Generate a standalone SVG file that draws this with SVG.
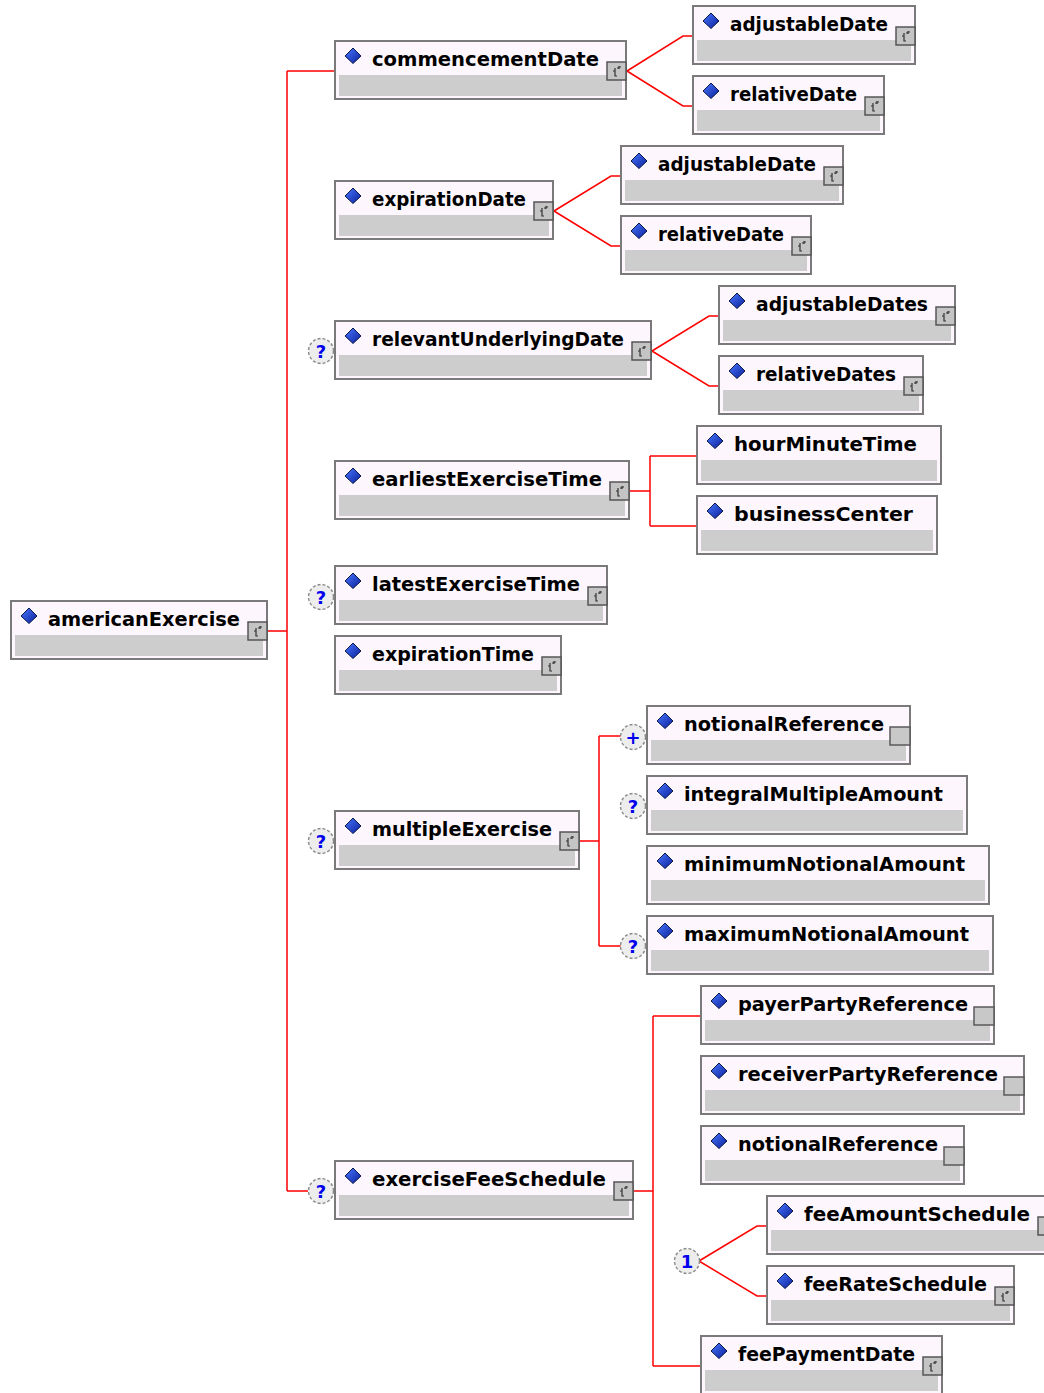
<svg xmlns="http://www.w3.org/2000/svg" width="1044" height="1393" viewBox="0 0 1044 1393">
<defs>
<linearGradient id="dg" x1="0" y1="0" x2="1" y2="1"><stop offset="0" stop-color="#4a78ff"/><stop offset="1" stop-color="#0a1f9a"/></linearGradient>
<path id="dia" d="M0,-8 L8,0 L0,7.5 L-8,0 Z" fill="url(#dg)" stroke="#0b1a4a" stroke-width="1"/>
<g id="cplx"><rect width="19" height="18" fill="#c4c4c4" stroke="#555" stroke-width="1.5"/><path d="M6 9h2M8 6v8h2M10 6h2M12 4v3M12 5h2" fill="none" stroke="#333" stroke-width="1.2"/></g>
<rect id="sref" width="20" height="18" fill="#c8c8c8" stroke="#5a5a5a" stroke-width="1.5"/>
</defs>
<style>
.box{fill:#fdf6fd;stroke:#7a7a7a;stroke-width:2}
.bar{fill:#cdcdcd}
.lbl{font-family:"DejaVu Sans",Verdana,sans-serif;font-weight:bold;font-size:19px;fill:#000}
.ln{fill:none;stroke:#ff0000;stroke-width:1.5}
.cmp circle{fill:#ededed;stroke:#8a8a8a;stroke-width:1.4;stroke-dasharray:3 2}
.cmp text{font-family:"DejaVu Sans",sans-serif;font-weight:bold;font-size:18px;fill:#0000ee;text-anchor:middle}
</style>
<rect width="1044" height="1393" fill="#fff"/>
<g id="connectors" class="ln">
<path d="M267 631H287M287 71V1191M287 71H335M287 1191H308"/>
<path d="M627 71L683 36H693M627 71L683 106H693"/>
<path d="M554 211L611 176H621M554 211L611 246H621"/>
<path d="M652 351L709 316H719M652 351L709 386H719"/>
<path d="M629 491H650M650 456V526M650 456H697M650 526H697"/>
<path d="M579 841H599M599 736V946M599 736H621M599 946H621"/>
<path d="M633 1191H653M653 1016V1366M653 1016H701M653 1366H701"/>
<path d="M699 1261L757 1226H767M699 1261L757 1296H767"/>
</g>
<g id="n-americanExercise" transform="translate(11,601)"><rect class="box" width="256" height="58"/><rect class="bar" x="4" y="34" width="248" height="21"/><use href="#dia" x="18" y="15"/><text class="lbl" x="37" y="25" textLength="192" lengthAdjust="spacingAndGlyphs">americanExercise</text><use href="#cplx" x="237" y="21"/></g>
<g id="n-commencementDate" transform="translate(335,41)"><rect class="box" width="291" height="58"/><rect class="bar" x="4" y="34" width="283" height="21"/><use href="#dia" x="18" y="15"/><text class="lbl" x="37" y="25" textLength="227" lengthAdjust="spacingAndGlyphs">commencementDate</text><use href="#cplx" x="272" y="21"/></g>
<g id="n-adjustableDate1" transform="translate(693,6)"><rect class="box" width="222" height="58"/><rect class="bar" x="4" y="34" width="214" height="21"/><use href="#dia" x="18" y="15"/><text class="lbl" x="37" y="25" textLength="158" lengthAdjust="spacingAndGlyphs">adjustableDate</text><use href="#cplx" x="203" y="21"/></g>
<g id="n-relativeDate1" transform="translate(693,76)"><rect class="box" width="191" height="58"/><rect class="bar" x="4" y="34" width="183" height="21"/><use href="#dia" x="18" y="15"/><text class="lbl" x="37" y="25" textLength="127" lengthAdjust="spacingAndGlyphs">relativeDate</text><use href="#cplx" x="172" y="21"/></g>
<g id="n-expirationDate" transform="translate(335,181)"><rect class="box" width="218" height="58"/><rect class="bar" x="4" y="34" width="210" height="21"/><use href="#dia" x="18" y="15"/><text class="lbl" x="37" y="25" textLength="154" lengthAdjust="spacingAndGlyphs">expirationDate</text><use href="#cplx" x="199" y="21"/></g>
<g id="n-adjustableDate2" transform="translate(621,146)"><rect class="box" width="222" height="58"/><rect class="bar" x="4" y="34" width="214" height="21"/><use href="#dia" x="18" y="15"/><text class="lbl" x="37" y="25" textLength="158" lengthAdjust="spacingAndGlyphs">adjustableDate</text><use href="#cplx" x="203" y="21"/></g>
<g id="n-relativeDate2" transform="translate(621,216)"><rect class="box" width="190" height="58"/><rect class="bar" x="4" y="34" width="182" height="21"/><use href="#dia" x="18" y="15"/><text class="lbl" x="37" y="25" textLength="126" lengthAdjust="spacingAndGlyphs">relativeDate</text><use href="#cplx" x="171" y="21"/></g>
<g id="n-relevantUnderlyingDate" transform="translate(335,321)"><rect class="box" width="316" height="58"/><rect class="bar" x="4" y="34" width="308" height="21"/><use href="#dia" x="18" y="15"/><text class="lbl" x="37" y="25" textLength="252" lengthAdjust="spacingAndGlyphs">relevantUnderlyingDate</text><use href="#cplx" x="297" y="21"/></g>
<g id="n-adjustableDates" transform="translate(719,286)"><rect class="box" width="236" height="58"/><rect class="bar" x="4" y="34" width="228" height="21"/><use href="#dia" x="18" y="15"/><text class="lbl" x="37" y="25" textLength="172" lengthAdjust="spacingAndGlyphs">adjustableDates</text><use href="#cplx" x="217" y="21"/></g>
<g id="n-relativeDates" transform="translate(719,356)"><rect class="box" width="204" height="58"/><rect class="bar" x="4" y="34" width="196" height="21"/><use href="#dia" x="18" y="15"/><text class="lbl" x="37" y="25" textLength="140" lengthAdjust="spacingAndGlyphs">relativeDates</text><use href="#cplx" x="185" y="21"/></g>
<g id="n-earliestExerciseTime" transform="translate(335,461)"><rect class="box" width="294" height="58"/><rect class="bar" x="4" y="34" width="286" height="21"/><use href="#dia" x="18" y="15"/><text class="lbl" x="37" y="25" textLength="230" lengthAdjust="spacingAndGlyphs">earliestExerciseTime</text><use href="#cplx" x="275" y="21"/></g>
<g id="n-hourMinuteTime" transform="translate(697,426)"><rect class="box" width="244" height="58"/><rect class="bar" x="4" y="34" width="236" height="21"/><use href="#dia" x="18" y="15"/><text class="lbl" x="37" y="25" textLength="183" lengthAdjust="spacingAndGlyphs">hourMinuteTime</text></g>
<g id="n-businessCenter" transform="translate(697,496)"><rect class="box" width="240" height="58"/><rect class="bar" x="4" y="34" width="232" height="21"/><use href="#dia" x="18" y="15"/><text class="lbl" x="37" y="25" textLength="179" lengthAdjust="spacingAndGlyphs">businessCenter</text></g>
<g id="n-latestExerciseTime" transform="translate(335,566)"><rect class="box" width="272" height="58"/><rect class="bar" x="4" y="34" width="264" height="21"/><use href="#dia" x="18" y="15"/><text class="lbl" x="37" y="25" textLength="208" lengthAdjust="spacingAndGlyphs">latestExerciseTime</text><use href="#cplx" x="253" y="21"/></g>
<g id="n-expirationTime" transform="translate(335,636)"><rect class="box" width="226" height="58"/><rect class="bar" x="4" y="34" width="218" height="21"/><use href="#dia" x="18" y="15"/><text class="lbl" x="37" y="25" textLength="162" lengthAdjust="spacingAndGlyphs">expirationTime</text><use href="#cplx" x="207" y="21"/></g>
<g id="n-multipleExercise" transform="translate(335,811)"><rect class="box" width="244" height="58"/><rect class="bar" x="4" y="34" width="236" height="21"/><use href="#dia" x="18" y="15"/><text class="lbl" x="37" y="25" textLength="180" lengthAdjust="spacingAndGlyphs">multipleExercise</text><use href="#cplx" x="225" y="21"/></g>
<g id="n-notionalReference1" transform="translate(647,706)"><rect class="box" width="263" height="58"/><rect class="bar" x="4" y="34" width="255" height="21"/><use href="#dia" x="18" y="15"/><text class="lbl" x="37" y="25" textLength="200" lengthAdjust="spacingAndGlyphs">notionalReference</text><use href="#sref" x="243" y="21"/></g>
<g id="n-integralMultipleAmount" transform="translate(647,776)"><rect class="box" width="320" height="58"/><rect class="bar" x="4" y="34" width="312" height="21"/><use href="#dia" x="18" y="15"/><text class="lbl" x="37" y="25" textLength="259" lengthAdjust="spacingAndGlyphs">integralMultipleAmount</text></g>
<g id="n-minimumNotionalAmount" transform="translate(647,846)"><rect class="box" width="342" height="58"/><rect class="bar" x="4" y="34" width="334" height="21"/><use href="#dia" x="18" y="15"/><text class="lbl" x="37" y="25" textLength="281" lengthAdjust="spacingAndGlyphs">minimumNotionalAmount</text></g>
<g id="n-maximumNotionalAmount" transform="translate(647,916)"><rect class="box" width="346" height="58"/><rect class="bar" x="4" y="34" width="338" height="21"/><use href="#dia" x="18" y="15"/><text class="lbl" x="37" y="25" textLength="285" lengthAdjust="spacingAndGlyphs">maximumNotionalAmount</text></g>
<g id="n-exerciseFeeSchedule" transform="translate(335,1161)"><rect class="box" width="298" height="58"/><rect class="bar" x="4" y="34" width="290" height="21"/><use href="#dia" x="18" y="15"/><text class="lbl" x="37" y="25" textLength="234" lengthAdjust="spacingAndGlyphs">exerciseFeeSchedule</text><use href="#cplx" x="279" y="21"/></g>
<g id="n-payerPartyReference" transform="translate(701,986)"><rect class="box" width="293" height="58"/><rect class="bar" x="4" y="34" width="285" height="21"/><use href="#dia" x="18" y="15"/><text class="lbl" x="37" y="25" textLength="230" lengthAdjust="spacingAndGlyphs">payerPartyReference</text><use href="#sref" x="273" y="21"/></g>
<g id="n-receiverPartyReference" transform="translate(701,1056)"><rect class="box" width="323" height="58"/><rect class="bar" x="4" y="34" width="315" height="21"/><use href="#dia" x="18" y="15"/><text class="lbl" x="37" y="25" textLength="260" lengthAdjust="spacingAndGlyphs">receiverPartyReference</text><use href="#sref" x="303" y="21"/></g>
<g id="n-notionalReference2" transform="translate(701,1126)"><rect class="box" width="263" height="58"/><rect class="bar" x="4" y="34" width="255" height="21"/><use href="#dia" x="18" y="15"/><text class="lbl" x="37" y="25" textLength="200" lengthAdjust="spacingAndGlyphs">notionalReference</text><use href="#sref" x="243" y="21"/></g>
<g id="n-feeAmountSchedule" transform="translate(767,1196)"><rect class="box" width="290" height="58"/><rect class="bar" x="4" y="34" width="282" height="21"/><use href="#dia" x="18" y="15"/><text class="lbl" x="37" y="25" textLength="226" lengthAdjust="spacingAndGlyphs">feeAmountSchedule</text><use href="#cplx" x="271" y="21"/></g>
<g id="n-feeRateSchedule" transform="translate(767,1266)"><rect class="box" width="247" height="58"/><rect class="bar" x="4" y="34" width="239" height="21"/><use href="#dia" x="18" y="15"/><text class="lbl" x="37" y="25" textLength="183" lengthAdjust="spacingAndGlyphs">feeRateSchedule</text><use href="#cplx" x="228" y="21"/></g>
<g id="n-feePaymentDate" transform="translate(701,1336)"><rect class="box" width="241" height="58"/><rect class="bar" x="4" y="34" width="233" height="21"/><use href="#dia" x="18" y="15"/><text class="lbl" x="37" y="25" textLength="177" lengthAdjust="spacingAndGlyphs">feePaymentDate</text><use href="#cplx" x="222" y="21"/></g>
<g id="compositors" class="cmp">
<g transform="translate(321,351)"><circle r="12.5"/><text y="6.5">?</text></g>
<g transform="translate(321,597)"><circle r="12.5"/><text y="6.5">?</text></g>
<g transform="translate(321,841)"><circle r="12.5"/><text y="6.5">?</text></g>
<g transform="translate(321,1191)"><circle r="12.5"/><text y="6.5">?</text></g>
<g transform="translate(633,737)"><circle r="12.5"/><text y="6.5">+</text></g>
<g transform="translate(633,806)"><circle r="12.5"/><text y="6.5">?</text></g>
<g transform="translate(633,946)"><circle r="12.5"/><text y="6.5">?</text></g>
<g transform="translate(687,1261)"><circle r="12.5"/><text y="6.5">1</text></g>
</g>
</svg>
